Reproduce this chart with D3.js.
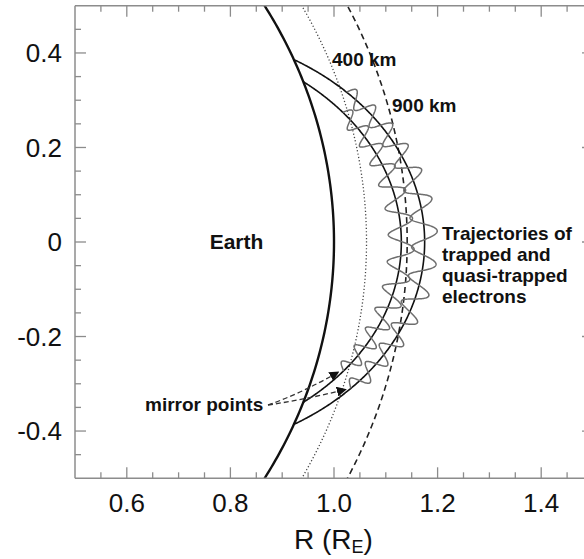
<!DOCTYPE html>
<html>
<head>
<meta charset="utf-8">
<script src="https://cdn.jsdelivr.net/npm/d3@7"></script>
<style>
  html, body { margin: 0; padding: 0; background: #ffffff; }
  svg { display: block; font-family: "Liberation Sans", Arial, sans-serif; }
</style>
</head>
<body>
<svg id="chart" width="584" height="559"></svg>
<script>
// ---- data -------------------------------------------------------------
const xTickValues = [0.6, 0.8, 1.0, 1.2, 1.4];
const xTickLabels = ["0.6", "0.8", "1.0", "1.2", "1.4"];
const yTickValues = [-0.4, -0.2, 0, 0.2, 0.4];
const yTickLabels = ["-0.4", "-0.2", "0", "0.2", "0.4"];

const earthRadiusKm = 6371;
const shellAltitudesKm = [0, 400, 900];          // surface, 400 km, 900 km
const shellLabels = ["", "400 km", "900 km"];

// dipole field lines (equatorial distance, R_E)
const fieldLineL = [1.13, 1.175];
// mirror latitudes of the electron trajectories (deg)
const mirrorLatNorth = [15.1, 17.2];
const mirrorLatSouth = [-15.0, -16.7];
// gyration cycles between the two mirror points, and gyro radius (R_E)
const gyroCycles = [12, 13];
const gyroRadius = [0.025, 0.025];

// ---- layout -----------------------------------------------------------
const svg = d3.select("#chart");
const x = d3.scaleLinear().domain([0.5, 1.5]).range([75, 593]);
const y = d3.scaleLinear().domain([-0.5, 0.5]).range([478.3, 5.7]);
const axisColor = "#8c8c8c";

svg.append("defs").append("clipPath").attr("id", "plotClip")
  .append("rect")
  .attr("x", x(0.5)).attr("y", y(0.5))
  .attr("width", x(1.5) - x(0.5)).attr("height", y(-0.5) - y(0.5));

svg.append("defs").append("marker")
  .attr("id", "arrowHead")
  .attr("viewBox", "0 0 10 10")
  .attr("refX", 9).attr("refY", 5)
  .attr("markerWidth", 10).attr("markerHeight", 10)
  .attr("markerUnits", "userSpaceOnUse")
  .attr("orient", "auto")
  .append("path").attr("d", "M0,0 L10,5 L0,10 Z").attr("fill", "#111");

const plot = svg.append("g").attr("clip-path", "url(#plotClip)");
const line = d3.line().x(d => x(d[0])).y(d => y(d[1]));
const rad = Math.PI / 180;

// ---- Earth surface and altitude shells --------------------------------
const shellStyles = [
  { width: 2.4, dash: null, color: "#111" },
  { width: 1.3, dash: "1.2,2.2", color: "#444" },
  { width: 1.6, dash: "6,4", color: "#222" }
];
shellAltitudesKm.forEach((alt, i) => {
  const r = 1 + alt / earthRadiusKm;
  const pts = d3.range(-60, 60.01, 0.5).map(a => [r * Math.cos(a * rad), r * Math.sin(a * rad)]);
  plot.append("path")
    .attr("d", line(pts))
    .attr("fill", "none")
    .attr("stroke", shellStyles[i].color)
    .attr("stroke-width", shellStyles[i].width)
    .attr("stroke-dasharray", shellStyles[i].dash);
});

// ---- dipole field lines r = L cos^2(lat) ------------------------------
function fieldPoint(L, latDeg) {
  const c = Math.cos(latDeg * rad), s = Math.sin(latDeg * rad);
  return [L * c * c * c, L * c * c * s];
}
fieldLineL.forEach(L => {
  const latFoot = Math.acos(Math.sqrt(1 / L)) / rad;
  const pts = d3.range(-latFoot, latFoot + 1e-9, latFoot / 200).map(a => fieldPoint(L, a));
  plot.append("path")
    .attr("d", line(pts))
    .attr("fill", "none")
    .attr("stroke", "#111")
    .attr("stroke-width", 1.6);
});

// ---- gyrating electron trajectories -----------------------------------
const pxPerRE = x(1) - x(0);
fieldLineL.forEach((L, i) => {
  const n = 900;
  const pts = [];
  for (let k = 0; k <= n; k++) {
    const u = k / n;
    const lat = mirrorLatNorth[i] + (mirrorLatSouth[i] - mirrorLatNorth[i]) * u;
    const p = fieldPoint(L, lat);
    const pa = fieldPoint(L, lat + 0.05), pb = fieldPoint(L, lat - 0.05);
    let tx = x(pa[0]) - x(pb[0]), ty = y(pa[1]) - y(pb[1]);
    const len = Math.hypot(tx, ty);
    tx /= len; ty /= len;
    const phase = 2 * Math.PI * gyroCycles[i] * (u + 0.2 * Math.sin(2 * Math.PI * u) / (2 * Math.PI));
    const amp = gyroRadius[i] * pxPerRE * (0.6 + 0.4 * Math.sin(Math.PI * u));
    const off = amp * Math.sin(phase);
    pts.push([x(p[0]) - ty * off, y(p[1]) + tx * off]);
  }
  plot.append("path")
    .attr("d", d3.line()(pts))
    .attr("fill", "none")
    .attr("stroke", "#6e6e6e")
    .attr("stroke-width", 1.5);
});

// ---- axes (ticks drawn inward on all four sides) -----------------------
const frame = svg.append("g");
const xMinor = d3.range(0.55, 1.5, 0.05);
const yMinor = d3.range(-0.45, 0.5, 0.05);
function isMajor(v, majors) { return majors.some(m => Math.abs(m - v) < 1e-6); }

// bottom and top
[[y(-0.5), -1], [y(0.5), 1]].forEach(([y0, dir]) => {
  frame.append("line").attr("x1", x(0.5)).attr("x2", x(1.5)).attr("y1", y0).attr("y2", y0)
    .attr("stroke", axisColor).attr("stroke-width", 1.5);
  frame.selectAll(null).data(xMinor).enter().append("line")
    .attr("x1", d => x(d)).attr("x2", d => x(d))
    .attr("y1", y0)
    .attr("y2", d => y0 + dir * (isMajor(d, xTickValues) ? 11 : 6))
    .attr("stroke", axisColor).attr("stroke-width", 1.3);
});
// left and right
[[x(0.5), 1], [x(1.5), -1]].forEach(([x0, dir]) => {
  frame.append("line").attr("x1", x0).attr("x2", x0).attr("y1", y(0.5)).attr("y2", y(-0.5))
    .attr("stroke", axisColor).attr("stroke-width", 1.5);
  frame.selectAll(null).data(yMinor).enter().append("line")
    .attr("y1", d => y(d)).attr("y2", d => y(d))
    .attr("x1", x0)
    .attr("x2", d => x0 + dir * (isMajor(d, yTickValues) ? 11 : 6))
    .attr("stroke", axisColor).attr("stroke-width", 1.3);
});

frame.selectAll(null).data(xTickValues).enter().append("text")
  .attr("x", d => x(d)).attr("y", 512)
  .attr("text-anchor", "middle")
  .attr("font-size", 26).attr("fill", "#111")
  .text((d, i) => xTickLabels[i]);

frame.selectAll(null).data(yTickValues).enter().append("text")
  .attr("x", 62).attr("y", d => y(d))
  .attr("dy", "0.36em")
  .attr("text-anchor", "end")
  .attr("font-size", 26).attr("fill", "#111")
  .text((d, i) => yTickLabels[i]);

const title = frame.append("text").attr("x", 294).attr("y", 549)
  .attr("font-size", 28).attr("fill", "#111");
title.append("tspan").text("R (R");
title.append("tspan").attr("font-size", 18).attr("dy", 4).text("E");
title.append("tspan").attr("dy", -4).text(")");

// ---- annotations --------------------------------------------------------
const notes = svg.append("g").attr("font-weight", "bold").attr("fill", "#111");
notes.append("text").attr("x", x(0.76)).attr("y", y(-0.015)).attr("font-size", 21).text("Earth");
notes.append("text").attr("x", 332).attr("y", 66).attr("font-size", 19).text(shellLabels[1]);
notes.append("text").attr("x", 392).attr("y", 112).attr("font-size", 19).text(shellLabels[2]);

const trajText = ["Trajectories of", "trapped and", "quasi-trapped", "electrons"];
notes.selectAll(null).data(trajText).enter().append("text")
  .attr("x", 442).attr("y", (d, i) => 240 + i * 21)
  .attr("font-size", 19).text(d => d);

notes.append("text").attr("x", 145).attr("y", 411).attr("font-size", 19).text("mirror points");

// arrows from the label to the southern mirror points
const arrowFrom = [268, 405];
[0, 1].forEach(i => {
  const m = fieldPoint(fieldLineL[i], mirrorLatSouth[i]);
  const tip = [x(m[0]) - 5, y(m[1]) + 1];
  const ctrl = [(arrowFrom[0] + tip[0]) / 2, (arrowFrom[1] + tip[1]) / 2 + (i === 0 ? 4 : 2)];
  svg.append("path")
    .attr("d", `M${arrowFrom[0]},${arrowFrom[1]} Q${ctrl[0]},${ctrl[1]} ${tip[0]},${tip[1]}`)
    .attr("fill", "none")
    .attr("stroke", "#333")
    .attr("stroke-width", 1.3)
    .attr("stroke-dasharray", "5,3")
    .attr("marker-end", "url(#arrowHead)");
});
</script>
</body>
</html>
